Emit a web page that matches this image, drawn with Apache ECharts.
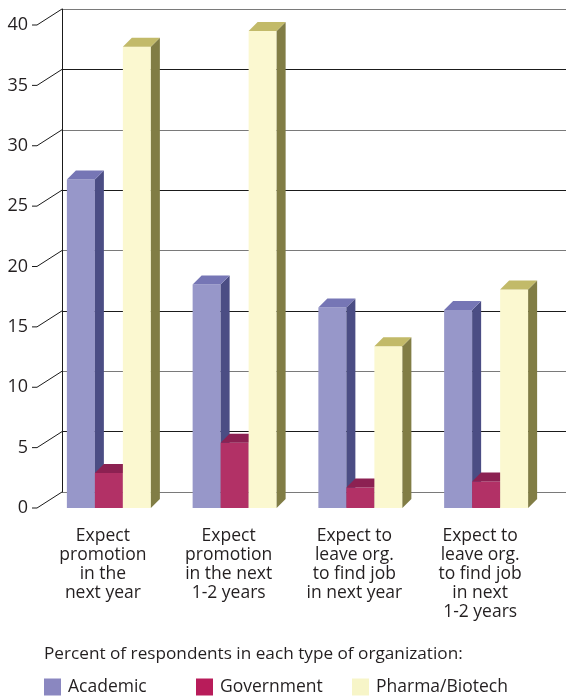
<!DOCTYPE html>
<html><head><meta charset="utf-8">
<script src="https://cdn.jsdelivr.net/npm/echarts@6/dist/echarts.min.js"></script>
<style>html,body{margin:0;padding:0;background:#fff}#c{width:566px;height:697px}</style>
</head><body><div id="c"></div>
<script>
const categories = [
  'Expect\npromotion\nin the\nnext year',
  'Expect\npromotion\nin the next\n1-2 years',
  'Expect to\nleave org.\nto find job\nin next year',
  'Expect to\nleave org.\nto find job\nin next\n1-2 years'
];
const seriesNames = ['Academic', 'Government', 'Pharma/Biotech'];
const academic = [27.2, 18.5, 16.6, 16.4];
const government = [2.9, 5.4, 1.7, 2.2];
const pharma = [38.2, 39.5, 13.4, 18.1];
const yTicks = [0, 5, 10, 15, 20, 25, 30, 35, 40];
const subtitle = 'Percent of respondents in each type of organization:';

const FONT = 'Open Sans';
const TXT = '#231f20';
const DX = 9, DY = -9, BW = 28, SHIFT = 6;
const palette = [
  {legend: '#8a87c0', front: '#9797c9', side: '#4b4d84', top: '#7676b5'},
  {legend: '#b81c5a', front: '#b23166', side: '#7e1c48', top: '#8c2152'},
  {legend: '#f7f5c8', front: '#fbf8d0', side: '#817d45', top: '#c2ba69'}
];

function bar3D(name, values, k) {
  const c = palette[k];
  return {
    type: 'custom', name: name, xAxisIndex: 0, yAxisIndex: 0, z: 3 + k,
    itemStyle: {color: c.legend},
    data: values.map((v, i) => [i, v]),
    renderItem: function (params, api) {
      const i = api.value(0), v = api.value(1);
      const t = api.coord([i, v]);
      const b = api.coord([i, 0]);
      const x0 = t[0] + SHIFT - 42 + BW * k;
      const yT = t[1], yB = b[1];
      return {
        type: 'group',
        children: [
          {type: 'rect', shape: {x: x0, y: yT, width: BW, height: yB - yT}, style: {fill: c.front}},
          {type: 'polygon', shape: {points: [[x0 + BW, yT], [x0 + BW + DX, yT + DY], [x0 + BW + DX, yB + DY], [x0 + BW, yB]]}, style: {fill: c.side}},
          {type: 'polygon', shape: {points: [[x0, yT], [x0 + DX, yT + DY], [x0 + BW + DX, yT + DY], [x0 + BW, yT]]}, style: {fill: c.top}}
        ]
      };
    }
  };
}

const chart = echarts.init(document.getElementById('c'), null, {renderer: 'canvas'});
chart.setOption({
  animation: false,
  backgroundColor: '#fff',
  title: {
    text: subtitle, left: 44, top: 643, padding: 0,
    textStyle: {fontFamily: FONT, fontSize: 17.2, fontWeight: 'normal', color: TXT, lineHeight: 22}
  },
  legend: [0, 1, 2].map((k) => ({
    data: [seriesNames[k]], left: [44, 196, 352][k], top: 678, padding: 0,
    icon: 'rect', itemWidth: 17, itemHeight: 17, itemGap: 0, selectedMode: false,
    textStyle: {fontFamily: FONT, fontSize: 17.5, color: TXT, padding: [0, 0, 0, 2]}
  })),
  grid: [
    {left: 40, width: 503, top: 25, height: 483},
    {left: 62, right: 0, top: 9, height: 483}
  ],
  xAxis: [
    {type: 'category', gridIndex: 0, data: categories,
     axisLine: {show: false}, axisTick: {show: false},
     axisLabel: {interval: 0, margin: 19, fontFamily: FONT, fontSize: 17.5, lineHeight: 19, color: TXT, align: 'center'}},
    {type: 'value', gridIndex: 1, min: 0, max: 1, show: false}
  ],
  yAxis: [
    {type: 'value', gridIndex: 0, min: 0, max: 40, interval: 5, offset: 3,
     axisLine: {show: false}, axisTick: {show: false}, splitLine: {show: false},
     axisLabel: {margin: 9, fontFamily: FONT, fontSize: 18, color: TXT}},
    {type: 'value', gridIndex: 1, min: 0, max: 40, interval: 5,
     axisLine: {show: true, lineStyle: {color: '#1a1a1a', width: 1}},
     axisTick: {show: false}, axisLabel: {show: false},
     splitLine: {show: true, lineStyle: {color: ['#7a7a7a', '#1a1a1a'], width: 1}}}
  ],
  series: [
    {
      type: 'custom', xAxisIndex: 1, yAxisIndex: 1, silent: true, z: 2,
      data: yTicks.map((v) => [0, v]),
      renderItem: function (params, api) {
        const p = api.coord([0, api.value(1)]);
        return {type: 'polyline', shape: {points: [[p[0] - 30, p[1] + 16], [p[0] - 25, p[1] + 16], [p[0], p[1]]]},
          style: {stroke: '#1a1a1a', lineWidth: 1, fill: null}};
      }
    },
    bar3D(seriesNames[0], academic, 0),
    bar3D(seriesNames[1], government, 1),
    bar3D(seriesNames[2], pharma, 2)
  ]
});
</script></body></html>
